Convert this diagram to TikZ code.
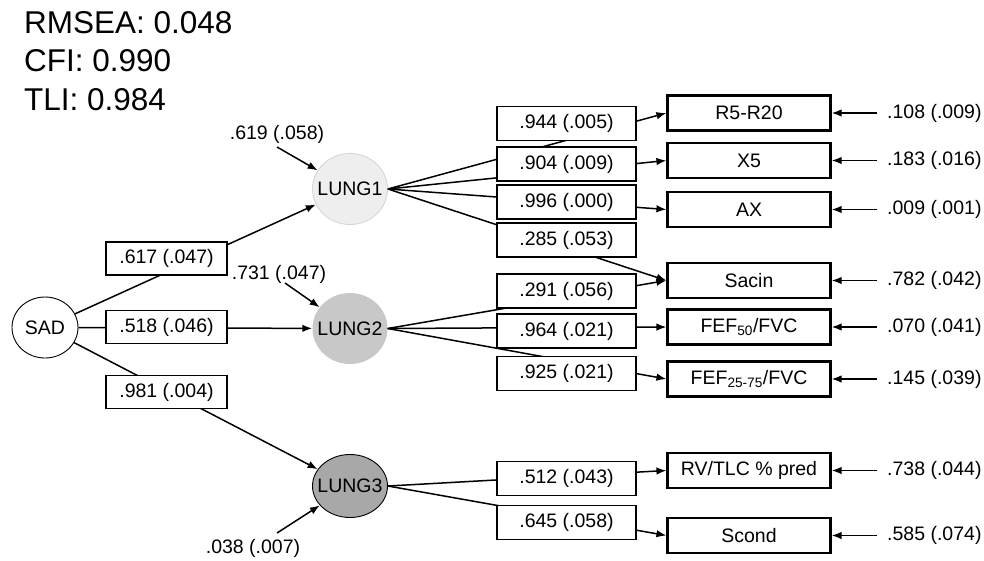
\documentclass[tikz,border=0pt]{standalone}
\usepackage{fontspec}
\setmainfont{Liberation Sans}
\usetikzlibrary{shapes.geometric,arrows.meta}
\definecolor{lgA}{HTML}{EEEEEE}
\definecolor{lgAb}{HTML}{D4D4D4}
\definecolor{lgB}{HTML}{C8C8C8}
\definecolor{lgC}{HTML}{A8A8A8}
\begin{document}
\begin{tikzpicture}[x=1pt,y=-1pt,
  every node/.style={font=\fontsize{19.5}{23}\selectfont},
  conn/.style={line width=1.5pt},
  arr/.style={conn,-{Latex[length=10pt,width=7.5pt]}},
  latent/.style={ellipse,minimum width=75pt,minimum height=71pt,inner sep=0pt},
  loadbox/.style={draw,fill=white,line width=1.1pt,minimum width=139pt,minimum height=34pt,inner sep=0pt},
  pathbox/.style={draw,fill=white,line width=1.1pt,minimum width=121pt,minimum height=33pt,inner sep=0pt},
  indbox/.style={draw,line width=2.2pt,minimum width=163pt,minimum height=35pt,inner sep=0pt},
  errlab/.style={anchor=west,inner xsep=10pt,inner ysep=0pt},
  fitlab/.style={anchor=base west,inner sep=0pt,font=\fontsize{31.5}{36}\selectfont}]
\useasboundingbox (0,0) rectangle (984,560);
\fill[white] (0,0) rectangle (984,560);

% fit indices
\node[fitlab] (fit1) at (24,33) {RMSEA: 0.048};
\node[fitlab] (fit2) at (24,71.5) {CFI: 0.990};
\node[fitlab] (fit3) at (24,110) {TLI: 0.984};

% latent variables
\node[ellipse,draw,line width=0.9pt,minimum width=66pt,minimum height=61pt,inner sep=0pt] (SAD) at (45,327.5) {\makebox[0pt]{SAD}};
\node[latent,fill=lgA,draw=lgAb,line width=0.8pt] (L1) at (350,189) {\makebox[0pt]{LUNG1}};
\node[latent,fill=lgB] (L2) at (350,328.5) {\makebox[0pt]{LUNG2}};
\node[latent,fill=lgC,draw=black,line width=0.9pt,minimum height=63pt] (L3) at (350,486) {\makebox[0pt]{LUNG3}};

% indicators
\node[indbox] (R5) at (749,113) {R5-R20};
\node[indbox] (X5) at (749,160.5) {X5};
\node[indbox] (AX) at (749,209.5) {AX};
\node[indbox] (SAC) at (749,280.5) {Sacin};
\node[indbox] (F50) at (749,327) {FEF\textsubscript{50}/FVC};
\node[indbox] (F2575) at (749,379) {FEF\textsubscript{25-75}/FVC};
\node[indbox] (RV) at (749,470.5) {RV/TLC \% pred};
\node[indbox] (SCO) at (749,535.5) {Scond};

% structural paths
\draw[arr] (SAD) -- (L1);
\draw[arr] (SAD) -- (L2);
\draw[arr] (SAD) -- (L3);

% loadings
\draw[arr] (L1.east) -- (R5.west);
\draw[arr] (L1.east) -- (X5.west);
\draw[arr] (L1.east) -- (AX.west);
\draw[arr] (L1.east) -- (SAC.west);
\draw[arr] (L2.east) -- (SAC.west);
\draw[arr] (L2.east) -- (F50.west);
\draw[arr] (L2.east) -- (F2575.west);
\draw[arr] (L3.east) -- (RV.west);
\draw[arr] (L3.east) -- (SCO.west);

% path coefficient boxes
\node[pathbox] (p1) at (166.5,258.5) {.617 (.047)};
\node[pathbox] (p2) at (166.5,327) {.518 (.046)};
\node[pathbox] (p3) at (166.5,392) {.981 (.004)};

% loading boxes
\node[loadbox] (b1) at (566.5,123.5) {.944 (.005)};
\node[loadbox] (b2) at (566.5,164) {.904 (.009)};
\node[loadbox] (b3) at (566.5,202) {.996 (.000)};
\node[loadbox] (b4) at (566.5,240) {.285 (.053)};
\node[loadbox] (b5) at (566.5,291) {.291 (.056)};
\node[loadbox] (b6) at (566.5,331) {.964 (.021)};
\node[loadbox] (b7) at (566.5,373.5) {.925 (.021)};
\node[loadbox] (b8) at (566.5,478.5) {.512 (.043)};
\node[loadbox] (b9) at (566.5,522.5) {.645 (.058)};

% latent residuals
\node[inner sep=0pt] (r1) at (277,134) {.619 (.058)};
\node[inner sep=0pt] (r2) at (279,274) {.731 (.047)};
\node[inner sep=0pt] (r3) at (253,548) {.038 (.007)};
\coordinate (c1) at (277,147);
\coordinate (c2) at (285,283);
\coordinate (c3) at (277,533);
\draw[arr] (c1) -- (L1);
\draw[arr] (c2) -- (L2);
\draw[arr] (c3) -- (L3);

% indicator residuals
\node[errlab] (e1) at (877,113) {.108 (.009)};
\node[errlab] (e2) at (877,160.5) {.183 (.016)};
\node[errlab] (e3) at (877,209.5) {.009 (.001)};
\node[errlab] (e4) at (877,280.5) {.782 (.042)};
\node[errlab] (e5) at (877,327) {.070 (.041)};
\node[errlab] (e6) at (877,379) {.145 (.039)};
\node[errlab] (e7) at (877,470.5) {.738 (.044)};
\node[errlab] (e8) at (877,535.5) {.585 (.074)};
\foreach \e/\t in {e1/R5,e2/X5,e3/AX,e4/SAC,e5/F50,e6/F2575,e7/RV,e8/SCO}
  \draw[arr] (\e.west) -- (\t.east);
\end{tikzpicture}
\end{document}
